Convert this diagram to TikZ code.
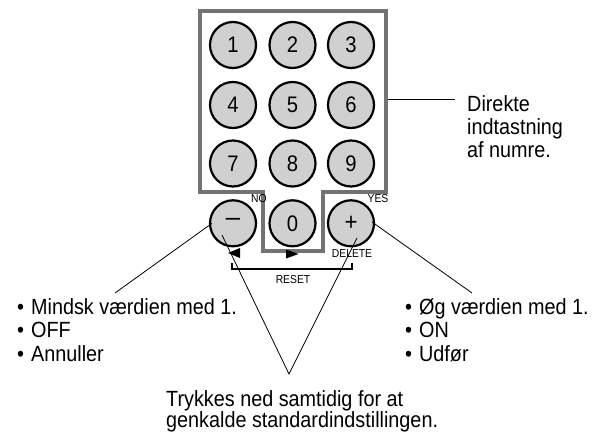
\documentclass[tikz,border=0pt]{standalone}
\usepackage{fontspec}
\setmainfont{Liberation Sans}[FakeStretch=0.9]
\usetikzlibrary{calc}
\definecolor{framegray}{RGB}{115,115,115}
\definecolor{btnfill}{RGB}{208,208,208}
\begin{document}
\begin{tikzpicture}[x=1pt,y=-1pt,
  btn/.style={circle,draw=black,line width=2.2pt,fill=btnfill,minimum size=46pt,inner sep=0pt,
    font=\fontsize{22.5}{24}\selectfont},
  bigtxt/.style={anchor=base west,inner sep=0pt,font=\fontsize{22}{24}\selectfont},
  smalltxt/.style={anchor=base,inner sep=0pt,font=\fontsize{11.5}{13}\selectfont},
  leader/.style={draw=black,line width=0.8pt},
  keyframe/.style={draw=framegray,line width=4pt,miter limit=10}]
\useasboundingbox (0,0) rectangle (599,433);
% frame
\draw[keyframe] (199.5,11.5) -- (385.5,11.5) -- (385.5,191.5) -- (323,191.5) -- (323,250.5)
  -- (262.5,250.5) -- (262.5,191.5) -- (199.5,191.5) -- cycle;
% buttons
\node[btn] (b1) at (233,45) {1};
\node[btn] (b2) at (292.5,45) {2};
\node[btn] (b3) at (351,45) {3};
\node[btn] (b4) at (233,105) {4};
\node[btn] (b5) at (292.5,105) {5};
\node[btn] (b6) at (351,105) {6};
\node[btn] (b7) at (233,163.5) {7};
\node[btn] (b8) at (292.5,163.5) {8};
\node[btn] (b9) at (351,163.5) {9};
\node[btn] (bm) at (233,223.3) {\scalebox{1.45}[1.1]{−}};
\node[btn] (b0) at (292.5,223.3) {0};
\node[btn] (bp) at (351,223.3) {\scalebox{1.1}{+}};
% small labels
\node[smalltxt] (no) at (259,202) {NO};
\node[smalltxt] (yes) at (378,202) {YES};
\node[smalltxt] (del) at (352,257) {DELETE};
\node[smalltxt] (reset) at (293,283) {RESET};
% triangles
\fill[black] (228,253) -- (240,248) -- (240,258) -- cycle;
\fill[black] (298.5,254) -- (286,249.5) -- (286,258.5) -- cycle;
% reset bracket
\draw[line width=1.5pt] (232,263) -- (232,269) -- (352,269) -- (352,263);
% text
\node[bigtxt] (d1) at (467,111.7) {Direkte};
\node[bigtxt] (d2) at (467,134.7) {indtastning};
\node[bigtxt] (d3) at (467,157.7) {af numre.};
\coordinate (frameR) at (387.5,99);
\coordinate (dirend) at (455,99);
\draw[leader] (frameR) -- (dirend);
\node[bigtxt] (l1) at (17,314) {\makebox[14pt][l]{•}Mindsk værdien med 1.};
\node[bigtxt] (l2) at (17,337.5) {\makebox[14pt][l]{•}OFF};
\node[bigtxt] (l3) at (17,361) {\makebox[14pt][l]{•}Annuller};
\node[bigtxt] (r1) at (405,314) {\makebox[14pt][l]{•}Øg værdien med 1.};
\node[bigtxt] (r2) at (405,337.5) {\makebox[14pt][l]{•}ON};
\node[bigtxt] (r3) at (405,361) {\makebox[14pt][l]{•}Udfør};
\node[bigtxt] (t1) at (166,406) {Trykkes ned samtidig for at};
\node[bigtxt] (t2) at (166,427) {genkalde standardindstillingen.};
% leaders
\coordinate (mlab) at (115,293);
\coordinate (plab) at (472,293);
\coordinate (apex) at (289,374);
\draw[leader] ($(bm)+(-21,0)$) -- (mlab);
\draw[leader] ($(bp)+(21,-1.3)$) -- (plab);
\draw[leader] ($(bm)+(-11,11.7)$) -- (apex) -- ($(bp)+(6,14.7)$);
\end{tikzpicture}
\end{document}
